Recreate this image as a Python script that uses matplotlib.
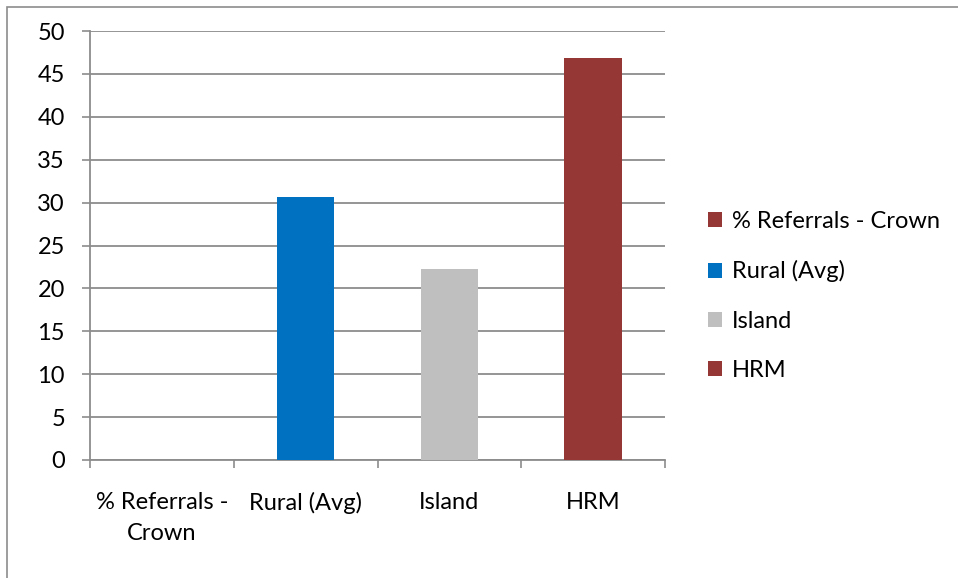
import matplotlib
matplotlib.use('Agg')
import matplotlib.pyplot as plt
import matplotlib.ticker as ticker
from matplotlib.patches import Patch, Rectangle

plt.rcParams['font.family'] = ['Lato', 'DejaVu Sans']

# referral share by region
categories = ['% Referrals -\nCrown', 'Rural (Avg)', 'Island', 'HRM']
legend_labels = ['% Referrals - Crown', 'Rural (Avg)', 'Island', 'HRM']
values = [0, 30.6, 22.3, 46.9]
colors = ['#953735', '#0070C0', '#BFBFBF', '#953735']

W, H, DPI = 958, 578, 100
fs = 17
fig = plt.figure(figsize=(W / DPI, H / DPI), dpi=DPI)
ax = fig.add_axes([90 / W, 1 - 460 / H, (665 - 90) / W, (460 - 31) / H])

x = list(range(len(categories)))
ax.bar(x, values, width=0.4, color=colors, zorder=3)

ax.set_xlim(-0.5, len(categories) - 0.5)
ax.set_ylim(0, 50)

######################
## axes, ticks, grid
######################

grid_col = '#8c8c8c'
ax.yaxis.set_major_locator(ticker.MultipleLocator(5))
ax.grid(which='major', axis='y', color=grid_col, linewidth=1.3, zorder=0)

ax.set_xticks(x)
ax.set_xticklabels(categories, linespacing=1.6)
ax.set_xticks([i - 0.5 for i in range(len(categories) + 1)], minor=True)
ax.tick_params(axis='x', which='major', length=0, pad=23, labelsize=fs)
ax.tick_params(axis='x', which='minor', length=6, width=1.2, color=grid_col, direction='out')
ax.tick_params(axis='y', which='major', length=6, width=1.2, color=grid_col, pad=12, labelsize=fs)

for side in ['top', 'right']:
    ax.spines[side].set_visible(False)
for side in ['left', 'bottom']:
    ax.spines[side].set_color(grid_col)
    ax.spines[side].set_linewidth(1.3)

######################
## legend
######################

handles = [Patch(facecolor=c, edgecolor='none') for c in colors]
ax.legend(handles, legend_labels, loc='center left', bbox_to_anchor=(687 / W, 1 - 296 / H),
          bbox_transform=fig.transFigure, frameon=False, fontsize=fs,
          handlelength=0.6, handleheight=0.6, handletextpad=0.4, labelspacing=1.2)

# chart area border
fig.patches.append(Rectangle((7 / W, -0.1), 2, 1 - 7 / H + 0.1, transform=fig.transFigure,
                             fill=False, edgecolor='#8c8c8c', linewidth=1.2))

plt.savefig('out.png', dpi=DPI)
